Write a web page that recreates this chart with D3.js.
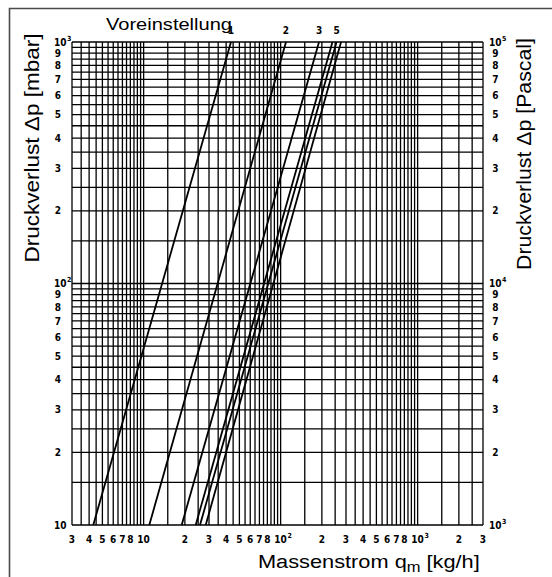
<!DOCTYPE html>
<html>
<head>
<meta charset="utf-8">
<script src="https://cdn.jsdelivr.net/npm/d3@7"></script>
<style>
  html, body { margin: 0; padding: 0; background: #fff; }
  svg { display: block; }
</style>
</head>
<body>
<script>
// ---------- DATA ----------
// Massenstrom q_m [kg/h] at 10 mbar and at 1000 mbar, per Voreinstellung line
const seriesNames  = ["1", "2", "3", "4", "5", "6"];
const seriesLabels = ["1", "2", "3", "", "5", ""];
const dpPoints     = [10, 1000];                // mbar
const qAtDp = [
  [4.29, 43.4],
  [11.0, 109.4],
  [18.96, 190.6],
  [24.0, 239],
  [25.8, 256],
  [28.4, 276]
];
// grid spacing (from, to, step)
const xGridSteps = [[3, 10, 0.5], [10, 100, 5], [100, 1000, 50], [1000, 3000, 500]];
const yGridSteps = [[10, 100, 5], [100, 1000, 50]];
// tick labels
const xTickValues = [3,4,5,6,7,8,10,20,30,40,50,60,70,80,100,200,300,400,500,600,700,800,1000,2000,3000];
const xTickText   = ["3","4","5","6","7","8","10","2","3","4","5","6","7","8","10^2","2","3","4","5","6","7","8","10^3","2","3"];
const yTickValues = [10,20,30,40,50,60,70,80,90,100,200,300,400,500,600,700,800,900,1000];
const yTickLeft   = ["10","2","3","4","5","6","7","8","9","10^2","2","3","4","5","6","7","8","9","10^3"];
const yTickRight  = ["10^3","2","3","4","5","6","7","8","9","10^4","2","3","4","5","6","7","8","9","10^5"];
const titleTop    = "Voreinstellung";
const titleLeft   = "Druckverlust \u0394p [mbar]";
const titleRight  = "Druckverlust \u0394p [Pascal]";

// ---------- DRAW ----------
const W = 552, H = 577;
const svg = d3.select("body").append("svg").attr("width", W).attr("height", H);
svg.append("rect").attr("width", W).attr("height", H).attr("fill", "#fff");

const x = d3.scaleLog().domain([3, 3000]).range([72, 483]);
const y = d3.scaleLog().domain([10, 1000]).range([525, 42]);

// frame
svg.append("path").attr("d", `M9.5,${H} V8.5 H${W}`)
  .attr("fill", "none").attr("stroke", "#4a4a4a").attr("stroke-width", 1.6);

function gridVals(steps) {
  const s = new Set();
  steps.forEach(([a, b, st]) => {
    const n = Math.round((b - a) / st);
    for (let i = 0; i <= n; i++) s.add(+(a + i * st).toFixed(6));
  });
  return Array.from(s).sort((p, q) => p - q);
}
const gx = gridVals(xGridSteps), gy = gridVals(yGridSteps);

const grid = svg.append("g").attr("stroke", "#000").attr("stroke-width", 1.3);
grid.selectAll("line.v").data(gx).join("line").attr("class", "v")
  .attr("x1", d => x(d)).attr("x2", d => x(d)).attr("y1", y(10)).attr("y2", y(1000));
grid.selectAll("line.h").data(gy).join("line").attr("class", "h")
  .attr("y1", d => y(d)).attr("y2", d => y(d)).attr("x1", x(3)).attr("x2", x(3000));

// curves
const line = d3.line().x(d => x(d[0])).y(d => y(d[1]));
svg.append("g").selectAll("path").data(qAtDp).join("path")
  .attr("d", d => line(d.map((q, i) => [q, dpPoints[i]])))
  .attr("fill", "none").attr("stroke", "#000").attr("stroke-width", 1.8);

const tickFont = "'DejaVu Sans Condensed', 'DejaVu Sans', sans-serif";
function label(g, txt, px, py, anchorDigits, startPow) {
  const m = txt.match(/^10\^(\d)$/);
  if (m) {
    const t = g.append("text").attr("x", px).attr("y", py)
      .attr("text-anchor", startPow ? "start" : "middle").text("10");
    const bb = t.node().getBBox();
    g.append("text").attr("x", bb.x + bb.width + 0.5).attr("y", py - 5)
      .attr("font-size", 7).text(m[1]);
  } else {
    g.append("text").attr("x", px).attr("y", py).attr("text-anchor", anchorDigits).text(txt);
  }
}

// bottom ticks
const gb = svg.append("g").attr("font-family", tickFont).attr("font-weight", "bold").attr("font-size", 10);
xTickValues.forEach((v, i) => label(gb, xTickText[i], x(v), 543, "middle", false));

// left ticks
const gl = svg.append("g").attr("font-family", tickFont).attr("font-weight", "bold").attr("font-size", 10);
yTickValues.forEach((v, i) => {
  const t = yTickLeft[i];
  if (t.startsWith("10")) label(gl, t, 54, y(v) + 3.6, "start", true);
  else label(gl, t, 58, y(v) + 3.6, "middle", false);
});
// right ticks
const gr = svg.append("g").attr("font-family", tickFont).attr("font-weight", "bold").attr("font-size", 10);
yTickValues.forEach((v, i) => {
  const t = yTickRight[i];
  if (t.startsWith("10")) label(gr, t, 489, y(v) + 3.6, "start", true);
  else label(gr, t, 495.5, y(v) + 3.6, "middle", false);
});

// series labels at top
svg.append("g").attr("font-family", tickFont).attr("font-weight", "bold").attr("font-size", 10)
  .selectAll("text").data(seriesNames.map((n, i) => ({ lab: seriesLabels[i], q: qAtDp[i][1] })).filter(d => d.lab))
  .join("text").attr("x", d => x(d.q)).attr("y", 33.5).attr("text-anchor", "middle").text(d => d.lab);

// titles
const titleFont = "'Liberation Sans', Arial, Helvetica, sans-serif";
svg.append("text").attr("x", 106).attr("y", 30).attr("font-family", titleFont).attr("font-size", 17)
  .attr("textLength", 126).attr("lengthAdjust", "spacingAndGlyphs").text(titleTop);

svg.append("text").attr("transform", "translate(39,148) rotate(-90)").attr("text-anchor", "middle")
  .attr("font-family", titleFont).attr("font-size", 20)
  .attr("textLength", 229).attr("lengthAdjust", "spacingAndGlyphs").text(titleLeft);

svg.append("text").attr("transform", "translate(531,154) rotate(-90)").attr("text-anchor", "middle")
  .attr("font-family", titleFont).attr("font-size", 20)
  .attr("textLength", 232).attr("lengthAdjust", "spacingAndGlyphs").text(titleRight);

const xt = svg.append("text").attr("x", 258).attr("y", 568).attr("font-family", titleFont).attr("font-size", 18.5);
xt.append("tspan").text("Massenstrom q");
xt.append("tspan").attr("dy", 4).attr("font-size", 14).text("m");
xt.append("tspan").attr("dy", -4).text(" [kg/h]");
const bbx = xt.node().getBBox();
xt.attr("transform", `translate(258,0) scale(${222 / bbx.width},1) translate(-258,0)`);
</script>
</body>
</html>
